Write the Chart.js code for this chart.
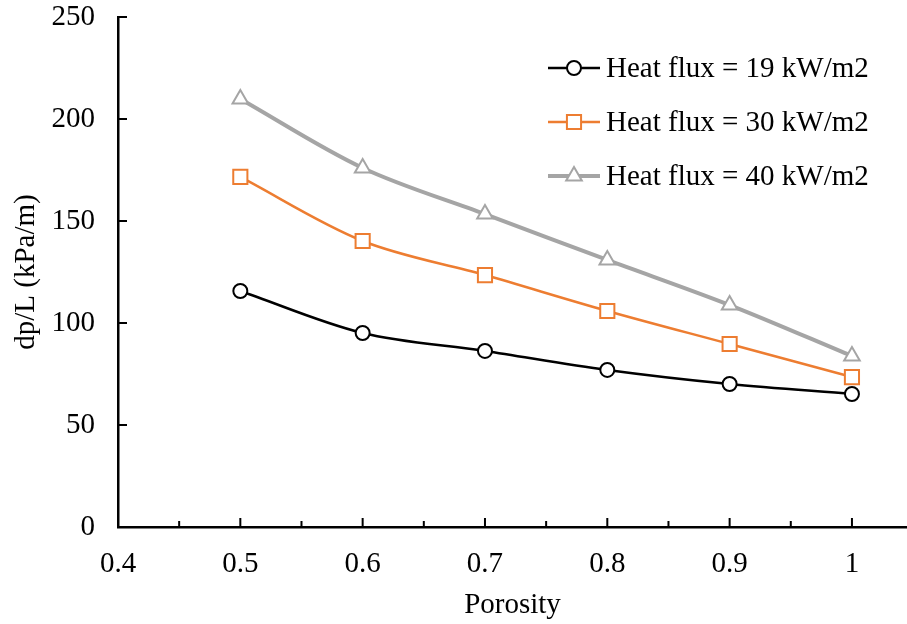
<!DOCTYPE html>
<html>
<head>
<meta charset="utf-8">
<script src="https://cdn.jsdelivr.net/npm/chart.js@4"></script>
<style>
  html, body { margin: 0; padding: 0; background: #fff; }
  #wrap { width: 907px; height: 624px; }
</style>
</head>
<body>
<div id="wrap"><canvas id="chart" width="907" height="624"></canvas></div>
<script>
// Datos
const porosity = [0.5, 0.6, 0.7, 0.8, 0.9, 1.0];
const flux19 = [115.7, 95.1, 86.3, 77.0, 70.1, 65.2];
const flux30 = [171.6, 140.2, 123.5, 105.9, 89.7, 73.5];
const flux40 = [209.8, 176.0, 153.4, 130.9, 108.8, 83.8];
const seriesLabels = ['Heat flux = 19 kW/m2', 'Heat flux = 30 kW/m2', 'Heat flux = 40 kW/m2'];

const xTicks = [0.4, 0.5, 0.6, 0.7, 0.8, 0.9, 1.0];
const xMinorTicks = [0.45, 0.55, 0.65, 0.75, 0.85, 0.95, 1.05];
const yTicks = [0, 50, 100, 150, 200, 250];

const FONT = '"Liberation Serif", "Times New Roman", serif';
const FSIZE = 29;
const ORANGE = '#ED7D31', GRAY = '#A5A5A5';

const pts = ys => porosity.map((x, i) => ({ x, y: ys[i] }));

// Marcas hacia dentro (mayores y menores) estilo Excel
const insideTicks = {
  id: 'insideTicks',
  afterDraw(chart) {
    const { ctx, scales: { x, y } } = chart;
    ctx.save();
    ctx.strokeStyle = '#000';
    ctx.lineWidth = 2;
    ctx.beginPath();
    xTicks.forEach(v => { const px = x.getPixelForValue(v); ctx.moveTo(px, y.bottom); ctx.lineTo(px, y.bottom - 9); });
    xMinorTicks.forEach(v => { const px = x.getPixelForValue(v); ctx.moveTo(px, y.bottom); ctx.lineTo(px, y.bottom - 6); });
    yTicks.forEach(v => { const py = y.getPixelForValue(v); ctx.moveTo(x.left, py); ctx.lineTo(x.left + 9, py); });
    ctx.stroke();
    ctx.restore();
  }
};

// Leyenda dibujada a mano: línea + marcador + texto
const lineLegend = {
  id: 'lineLegend',
  afterDraw(chart) {
    const ctx = chart.ctx;
    const x0 = 548, x1 = 600, tx = 606;
    const rows = [68, 122, 176];
    ctx.save();
    chart.data.datasets.forEach((ds, i) => {
      const yy = rows[i];
      ctx.strokeStyle = ds.borderColor;
      ctx.lineWidth = ds.borderWidth;
      ctx.beginPath(); ctx.moveTo(x0, yy); ctx.lineTo(x1, yy); ctx.stroke();
      ctx.fillStyle = ds.pointBackgroundColor;
      ctx.strokeStyle = ds.pointBorderColor;
      ctx.lineWidth = ds.pointBorderWidth;
      Chart.helpers.drawPoint(ctx, { pointStyle: ds.pointStyle, radius: ds.pointRadius, rotation: 0, borderWidth: ds.pointBorderWidth }, (x0 + x1) / 2, yy);
      ctx.fillStyle = '#000';
      ctx.font = `${FSIZE}px ${FONT}`;
      ctx.textBaseline = 'middle';
      ctx.textAlign = 'left';
      ctx.fillText(ds.label, tx, yy + 1);
    });
    ctx.restore();
  }
};

new Chart(document.getElementById('chart'), {
  type: 'line',
  data: {
    datasets: [
      {
        label: seriesLabels[0], data: pts(flux19),
        borderColor: '#000', borderWidth: 2.5,
        pointStyle: 'circle', pointRadius: 7, pointBorderWidth: 2,
        pointBackgroundColor: '#fff', pointBorderColor: '#000',
      },
      {
        label: seriesLabels[1], data: pts(flux30),
        borderColor: ORANGE, borderWidth: 2.5,
        pointStyle: 'rect', pointRadius: 10, pointBorderWidth: 2,
        pointBackgroundColor: '#fff', pointBorderColor: ORANGE,
      },
      {
        label: seriesLabels[2], data: pts(flux40),
        borderColor: GRAY, borderWidth: 4,
        pointStyle: 'triangle', pointRadius: 9, pointBorderWidth: 2,
        pointBackgroundColor: '#fff', pointBorderColor: GRAY,
      },
    ],
  },
  options: {
    responsive: false,
    animation: false,
    layout: { autoPadding: false, padding: { top: 17, right: 0, left: 0, bottom: 0 } },
    elements: { line: { tension: 0.33 } },
    clip: false,
    plugins: { legend: { display: false }, tooltip: { enabled: false } },
    scales: {
      x: {
        type: 'linear', min: 0.4, max: 1.045,
        afterBuildTicks: s => { s.ticks = xTicks.map(v => ({ value: v })); },
        afterFit: s => { s.height = 97; s.paddingRight = 0; s.paddingLeft = 0; },
        grid: { display: false, drawTicks: false },
        border: { display: true, color: '#000', width: 2.5 },
        ticks: { color: '#000', font: { family: FONT, size: FSIZE }, padding: 20, maxRotation: 0, autoSkip: false,
          callback: v => String(Math.round(v * 10) / 10) },
        title: { display: true, text: 'Porosity', color: '#000', font: { family: FONT, size: FSIZE }, padding: { top: 0, bottom: 1 } },
      },
      y: {
        min: 0, max: 250,
        afterBuildTicks: s => { s.ticks = yTicks.map(v => ({ value: v })); },
        afterFit: s => { s.width = 118; s.paddingTop = 0; s.paddingBottom = 0; },
        grid: { display: false, drawTicks: false },
        border: { display: true, color: '#000', width: 2.5 },
        ticks: { color: '#000', font: { family: FONT, size: FSIZE }, padding: 23 },
        title: { display: true, text: 'dp/L (kPa/m)', color: '#000', font: { family: FONT, size: FSIZE }, padding: { top: 9, bottom: 0 } },
      },
    },
  },
  plugins: [insideTicks, lineLegend],
});
</script>
</body>
</html>
